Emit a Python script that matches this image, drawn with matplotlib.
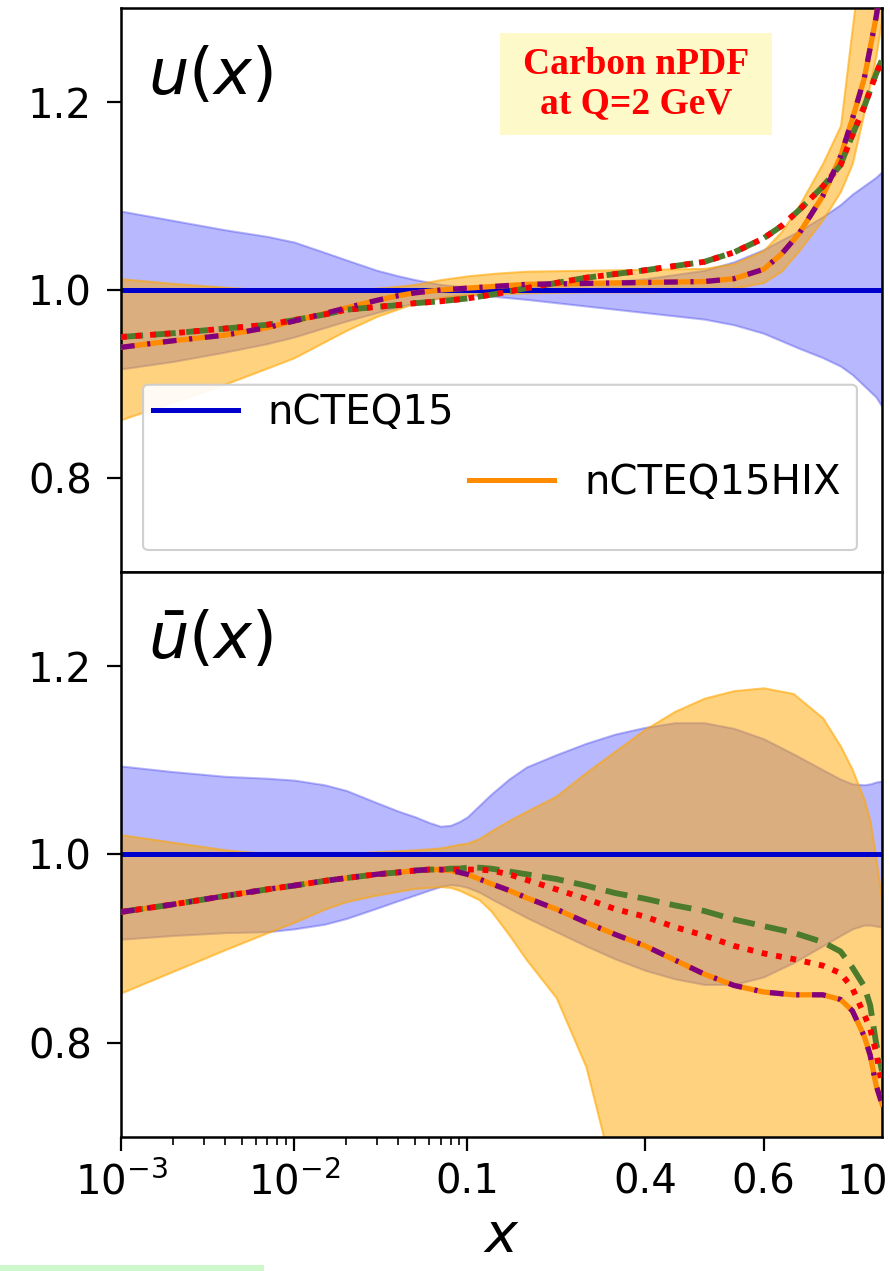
import numpy as np
import matplotlib
matplotlib.use('Agg')
import matplotlib.pyplot as plt
from matplotlib.lines import Line2D
from matplotlib.patches import Rectangle, FancyBboxPatch

# ====================== DATA ======================
# u(x) panel, ratio to nCTEQ15 central
x_u = [0.001, 0.002, 0.004, 0.007, 0.01, 0.015, 0.02, 0.03, 0.04, 0.05, 0.07, 0.1, 0.15,
       0.2, 0.3, 0.4, 0.5, 0.55, 0.6, 0.63, 0.66, 0.7, 0.73, 0.75, 0.77, 0.79, 0.8]
u_nc15_hi = [1.084, 1.074, 1.064, 1.057, 1.051, 1.040, 1.032, 1.021, 1.015, 1.011, 1.006,
             1.003, 1.002, 1.003, 1.007, 1.012, 1.021, 1.030, 1.043, 1.053, 1.063, 1.078,
             1.091, 1.102, 1.111, 1.120, 1.126]
u_nc15_lo = [0.916, 0.924, 0.934, 0.943, 0.950, 0.960, 0.967, 0.976, 0.982, 0.986, 0.992,
             0.995, 0.993, 0.990, 0.983, 0.976, 0.969, 0.963, 0.954, 0.946, 0.938, 0.928,
             0.919, 0.910, 0.898, 0.886, 0.876]
u_hix_hi = [1.012, 1.007, 1.003, 1.000, 0.999, 0.999, 1.000, 1.002, 1.004, 1.006, 1.011,
            1.015, 1.018, 1.020, 1.021, 1.022, 1.023, 1.028, 1.042, 1.062, 1.090, 1.135,
            1.175, 1.280, 1.380, 1.500, 1.600]
u_hix_lo = [0.862, 0.881, 0.900, 0.917, 0.928, 0.945, 0.957, 0.972, 0.980, 0.986, 0.992,
            0.995, 0.996, 0.997, 0.998, 0.998, 0.999, 1.002, 1.008, 1.020, 1.042, 1.075,
            1.105, 1.135, 1.190, 1.250, 1.290]
u_hix = [0.939, 0.946, 0.952, 0.960, 0.967, 0.975, 0.981, 0.989, 0.994, 0.997, 1.000,
         1.002, 1.004, 1.006, 1.007, 1.008, 1.009, 1.012, 1.022, 1.038, 1.060, 1.100,
         1.142, 1.182, 1.225, 1.290, 1.330]
u_purple = [0.939, 0.946, 0.952, 0.960, 0.967, 0.975, 0.981, 0.989, 0.994, 0.997, 1.000,
            1.002, 1.004, 1.006, 1.007, 1.008, 1.009, 1.012, 1.022, 1.038, 1.060, 1.100,
            1.142, 1.182, 1.225, 1.290, 1.330]
u_red = [0.950, 0.954, 0.959, 0.963, 0.968, 0.974, 0.979, 0.982, 0.984, 0.986, 0.988,
         0.991, 0.996, 1.002, 1.013, 1.021, 1.030, 1.040, 1.055, 1.068, 1.085, 1.110,
         1.133, 1.165, 1.195, 1.230, 1.245]
u_green = [0.950, 0.954, 0.959, 0.963, 0.968, 0.974, 0.979, 0.982, 0.984, 0.986, 0.988,
           0.991, 0.996, 1.002, 1.013, 1.021, 1.030, 1.040, 1.055, 1.068, 1.085, 1.110,
           1.133, 1.165, 1.195, 1.230, 1.245]

# ubar(x) panel
x_ub = [0.001, 0.002, 0.004, 0.007, 0.01, 0.015, 0.02, 0.03, 0.04, 0.05, 0.06, 0.07,
        0.08, 0.09, 0.1, 0.12, 0.14, 0.17, 0.2, 0.25, 0.3, 0.35, 0.4, 0.45, 0.5, 0.55,
        0.6, 0.65, 0.7, 0.73, 0.75, 0.77, 0.78, 0.79, 0.8]
ub_nc15_hi = [1.094, 1.088, 1.083, 1.081, 1.079, 1.074, 1.068, 1.055, 1.046, 1.040, 1.034,
              1.030, 1.031, 1.035, 1.040, 1.052, 1.064, 1.080, 1.093, 1.106, 1.118, 1.128,
              1.135, 1.140, 1.140, 1.134, 1.123, 1.107, 1.090, 1.080, 1.075, 1.074, 1.075,
              1.077, 1.078]
ub_nc15_lo = [0.910, 0.914, 0.917, 0.918, 0.921, 0.926, 0.932, 0.943, 0.951, 0.957, 0.962,
              0.966, 0.968, 0.967, 0.965, 0.960, 0.953, 0.943, 0.933, 0.918, 0.903, 0.889,
              0.877, 0.868, 0.862, 0.862, 0.870, 0.885, 0.903, 0.914, 0.921, 0.925, 0.925,
              0.924, 0.923]
ub_hix_hi = [1.021, 1.013, 1.005, 1.001, 1.000, 1.000, 1.001, 1.003, 1.004, 1.005, 1.006,
             1.007, 1.009, 1.011, 1.012, 1.017, 1.025, 1.036, 1.046, 1.062, 1.087, 1.110,
             1.133, 1.152, 1.166, 1.174, 1.177, 1.171, 1.145, 1.115, 1.090, 1.058, 1.035,
             0.995, 0.950]
ub_hix_lo = [0.853, 0.876, 0.899, 0.917, 0.928, 0.942, 0.950, 0.957, 0.961, 0.964, 0.965,
             0.966, 0.965, 0.962, 0.958, 0.952, 0.940, 0.915, 0.888, 0.848, 0.775, 0.650,
             0.580, 0.500, 0.500, 0.500, 0.500, 0.500, 0.500, 0.500, 0.500, 0.500, 0.500,
             0.500, 0.500]
ub_hix = [0.939, 0.947, 0.956, 0.963, 0.967, 0.972, 0.975, 0.979, 0.981, 0.983, 0.984,
          0.984, 0.983, 0.981, 0.979, 0.974, 0.969, 0.962, 0.954, 0.942, 0.928, 0.915,
          0.903, 0.888, 0.873, 0.861, 0.854, 0.851, 0.851, 0.846, 0.834, 0.807, 0.787,
          0.755, 0.735]
ub_purple = [0.939, 0.947, 0.956, 0.963, 0.967, 0.972, 0.975, 0.979, 0.981, 0.983, 0.984,
             0.984, 0.983, 0.981, 0.979, 0.974, 0.969, 0.962, 0.954, 0.942, 0.928, 0.915,
             0.903, 0.888, 0.873, 0.861, 0.854, 0.851, 0.851, 0.846, 0.834, 0.807, 0.787,
             0.755, 0.735]
ub_red = [0.939, 0.947, 0.956, 0.963, 0.967, 0.972, 0.975, 0.979, 0.981, 0.983, 0.984,
          0.984, 0.984, 0.984, 0.984, 0.984, 0.983, 0.979, 0.973, 0.963, 0.953, 0.942,
          0.934, 0.923, 0.914, 0.903, 0.895, 0.889, 0.882, 0.874, 0.858, 0.830, 0.815,
          0.790, 0.755]
ub_green = [0.939, 0.947, 0.956, 0.963, 0.967, 0.972, 0.975, 0.979, 0.981, 0.983, 0.984,
            0.984, 0.985, 0.985, 0.986, 0.986, 0.985, 0.982, 0.979, 0.974, 0.967, 0.959,
            0.953, 0.946, 0.940, 0.931, 0.924, 0.917, 0.907, 0.897, 0.880, 0.860, 0.840,
            0.800, 0.770]

xticks = [1e-3, 1e-2, 0.1, 0.4, 0.6]
xticklabels = [r'$10^{-3}$', r'$10^{-2}$', '0.1', '0.4', '0.6']
yticks = [0.8, 1.0, 1.2]
legend_labels = ['nCTEQ15', 'nCTEQ15HIX']

# ====================== mixed log / linear x axis ======================
S = 3.42  # decades per unit of x above 0.1


def fwd(x):
    x = np.asarray(x, dtype=float)
    xl = np.log10(np.clip(x, 1e-12, None))
    return np.where(x <= 0.1, xl, -1.0 + (x - 0.1) * S)


def inv(y):
    y = np.asarray(y, dtype=float)
    return np.where(y <= -1.0, 10.0 ** np.minimum(y, -1.0), 0.1 + (y + 1.0) / S)


FS = 29
BLUE = '#0000cc'
ORANGE = '#ff8c00'

fig = plt.figure(figsize=(8.9, 12.71), dpi=100)
L, R = 121 / 890, 882 / 890
ax_u = fig.add_axes([L, 1 - 572 / 1271, R - L, (572 - 8) / 1271])
ax_ub = fig.add_axes([L, 1 - 1137 / 1271, R - L, (1137 - 572) / 1271])


def draw_panel(ax, x, nc_lo, nc_hi, hix_lo, hix_hi, hix, purple, red, green):
    ax.set_xscale('function', functions=(fwd, inv))
    ax.fill_between(x, nc_lo, nc_hi, facecolor=(0, 0, 1, 0.28),
                    edgecolor=(0.2, 0.2, 0.9, 0.35), lw=1.5, zorder=1)
    ax.fill_between(x, hix_lo, hix_hi, facecolor=(1, 0.65, 0, 0.5),
                    edgecolor=(1, 0.65, 0, 0.6), lw=1.5, zorder=1.1)
    ax.axhline(1.0, color=BLUE, lw=3.6, zorder=2)
    ax.plot(x, hix, color=ORANGE, lw=3.8, zorder=3)
    ax.plot(x, green, color='#4b7b2b', lw=4.2, ls=(0, (3.8, 1.8)), zorder=3.1)
    ax.plot(x, red, color='red', lw=4.2, ls=(0, (1, 1.5)), zorder=3.2)
    ax.plot(x, purple, color='purple', lw=3.8, ls=(0, (2.6, 2.4, 0.6, 2.4)), zorder=3.3)

    ax.set_xlim(1e-3, 0.8)
    ax.set_ylim(0.7, 1.3)
    ax.set_yticks(yticks)
    ax.set_yticklabels([f'{v:.1f}' for v in yticks])
    ax.set_xticks(xticks)
    ax.set_xticks([k * 1e-3 for k in range(2, 10)] + [k * 1e-2 for k in range(2, 10)], minor=True)
    ax.tick_params(axis='both', which='major', labelsize=FS, length=10, width=1.6, pad=8)
    ax.tick_params(axis='y', which='major', pad=11)
    ax.tick_params(axis='x', which='minor', length=5.5, width=1.2)
    ax.tick_params(axis='y', which='minor', left=False)
    for sp in ax.spines.values():
        sp.set_linewidth(1.8)


draw_panel(ax_u, x_u, u_nc15_lo, u_nc15_hi, u_hix_lo, u_hix_hi, u_hix, u_purple, u_red, u_green)
draw_panel(ax_ub, x_ub, ub_nc15_lo, ub_nc15_hi, ub_hix_lo, ub_hix_hi, ub_hix, ub_purple, ub_red, ub_green)

ax_u.tick_params(axis='x', which='both', bottom=False, labelbottom=False)
ax_ub.set_xticklabels(xticklabels)
ax_ub.set_xlabel(r'$x$', fontsize=40, labelpad=5)

ax_u.text(0.036, 0.88, r'$u(x)$', transform=ax_u.transAxes, fontsize=46, va='center', ha='left')
ax_ub.text(0.036, 0.88, r'$\bar{u}(x)$', transform=ax_ub.transAxes, fontsize=46, va='center', ha='left')

# next panel's first tick label, cut by the figure edge
ax_ub.annotate(r'$10^{-3}$', xy=(1.0, 0.0), xycoords='axes fraction', xytext=(0, -18),
               textcoords='offset points', ha='center', va='top', fontsize=FS,
               annotation_clip=False)

# legend (two entries, staggered columns)
frame = FancyBboxPatch((0.029, 0.039), 0.938, 0.293, boxstyle='round,pad=0,rounding_size=0.008',
                       transform=ax_u.transAxes, facecolor='white', edgecolor='#cccccc',
                       lw=1.5, alpha=0.92, zorder=4)
ax_u.add_patch(frame)
blank = Line2D([], [], color='none')
handles = [Line2D([], [], color=BLUE, lw=3.6), blank, blank, Line2D([], [], color=ORANGE, lw=3.6)]
labels = [legend_labels[0], ' ', ' ', legend_labels[1]]
leg = ax_u.legend(handles, labels, ncol=2, loc='upper left', bbox_to_anchor=(0.042, 0.318),
                  frameon=False, fontsize=FS, handlelength=2.1, handletextpad=0.75,
                  columnspacing=0.37, labelspacing=0.75, borderpad=0, borderaxespad=0)
leg.set_zorder(5)

# annotation box
fig.patches.append(Rectangle((500 / 890, 1 - 135 / 1271), 272 / 890, 102 / 1271,
                             transform=fig.transFigure, facecolor='#fdf9c8',
                             edgecolor='none', zorder=6))
fig.text(636 / 890, 1 - 65 / 1271, 'Carbon nPDF', family='Liberation Serif', weight='bold',
         color='red', fontsize=27, ha='center', va='center', zorder=7)
fig.text(636 / 890, 1 - 104 / 1271, 'at Q=2 GeV', family='Liberation Serif', weight='bold',
         color='red', fontsize=27, ha='center', va='center', zorder=7)

# light green strip at the bottom
fig.patches.append(Rectangle((0, 0), 264 / 890, 6 / 1271, transform=fig.transFigure,
                             facecolor='#ccf8cc', edgecolor='none'))

fig.savefig('out.png', dpi=100)
